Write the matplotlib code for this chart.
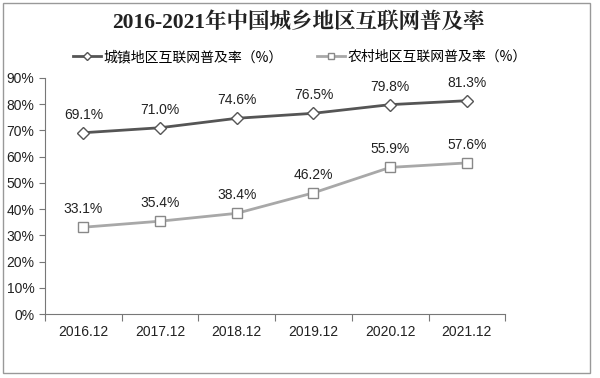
import matplotlib.pyplot as plt
from matplotlib.patches import Rectangle
from matplotlib.lines import Line2D

years = ["2016.12", "2017.12", "2018.12", "2019.12", "2020.12", "2021.12"]
urban = [69.1, 71.0, 74.6, 76.5, 79.8, 81.3]
rural = [33.1, 35.4, 38.4, 46.2, 55.9, 57.6]
yticks = [0, 10, 20, 30, 40, 50, 60, 70, 80, 90]

title = "2016-2021年中国城乡地区互联网普及率"
urban_label = "城镇地区互联网普及率（%）"
rural_label = "农村地区互联网普及率（%）"

plt.rcParams["font.family"] = ["Liberation Sans", "Noto Sans CJK SC", "DejaVu Sans"]

fig = plt.figure(figsize=(6.0, 3.78), dpi=100)
ax = fig.add_axes([0.075, 0.169, 0.767, 0.625])

x = list(range(len(years)))
dark = "#555555"
light = "#a8a8a8"
ax.plot(x, urban, color=dark, lw=2, marker="D", ms=6, mfc="white", mec=dark, mew=1.0)
ax.plot(x, rural, color=light, lw=2, marker="s", ms=7, mfc="white", mec="#888888", mew=1.0)

for xi, v in zip(x, urban):
    ax.annotate(f"{v:.1f}%", (xi, v), xytext=(0, 8), textcoords="offset points",
                ha="center", va="bottom", fontsize=10, color="#222222")
for xi, v in zip(x, rural):
    ax.annotate(f"{v:.1f}%", (xi, v), xytext=(0, 8), textcoords="offset points",
                ha="center", va="bottom", fontsize=10, color="#222222")

ax.set_xlim(-0.5, len(years) - 0.5)
ax.set_ylim(0, 90)
ax.set_yticks(yticks)
ax.set_yticklabels([f"{t}%" for t in yticks], fontsize=10, color="#222222")
ax.set_xticks([i - 0.5 for i in range(len(years) + 1)])
ax.set_xticklabels([])
ax.set_xticks(x, minor=True)
ax.set_xticklabels(years, minor=True, fontsize=10, color="#222222")
ax.tick_params(axis="x", which="minor", length=0, pad=8)
ax.tick_params(axis="x", which="major", length=5, color="#777777", direction="out")
ax.tick_params(axis="y", length=4, color="#777777", direction="out")
for s in ("top", "right"):
    ax.spines[s].set_visible(False)
for s in ("left", "bottom"):
    ax.spines[s].set_color("#777777")

fig.text(0.497, 0.94, title, ha="center", va="center", fontsize=15.5, fontweight="bold",
         family=["Liberation Serif", "Noto Serif CJK SC", "Noto Sans CJK SC"], color="#222222")

handles = [
    Line2D([], [], color=dark, lw=2, marker="D", ms=4.5, mfc="white", mec=dark),
    Line2D([], [], color=light, lw=2, marker="s", ms=5, mfc="white", mec="#888888"),
]
fig.legend(handles, [urban_label, rural_label], loc="center", bbox_to_anchor=(0.5, 0.849),
           ncol=2, frameon=False, handlelength=2.0, handletextpad=0.2, columnspacing=2.5,
           prop={"family": ["Noto Sans CJK SC", "DejaVu Sans"], "size": 10})

fig.patches.append(Rectangle((0.005, 0.012), 0.978, 0.98, transform=fig.transFigure,
                             fill=False, edgecolor="#999999", lw=1))

fig.savefig("out.png", dpi=100)
